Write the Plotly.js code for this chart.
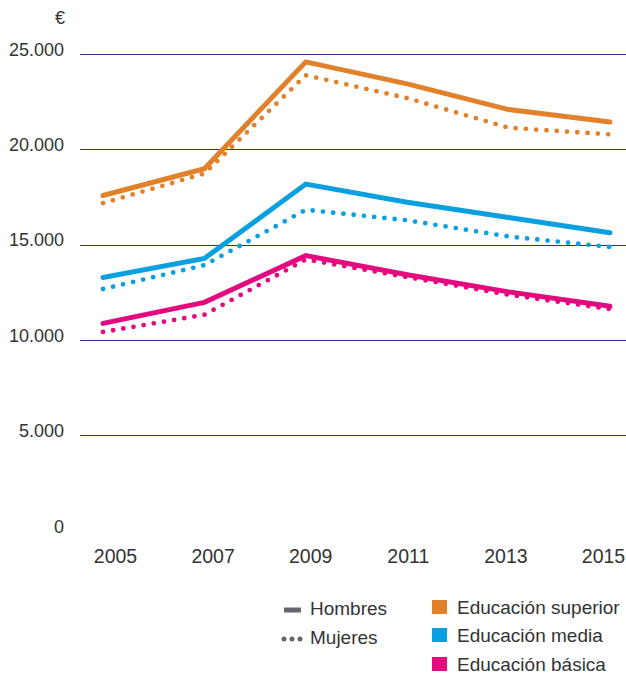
<!DOCTYPE html>
<html>
<head>
<meta charset="utf-8">
<script src="https://cdn.plot.ly/plotly-3.0.1.min.js"></script>
<style>
  html, body { margin: 0; padding: 0; background: #fff; }
  #chart { width: 626px; height: 675px; }
  .scatterlayer .js-line { stroke-linecap: round; }
</style>
</head>
<body>
<div id="chart"></div>
<script>
// ---- data ----
const years = [2005, 2007, 2009, 2011, 2013, 2015];
const yearLabels = ["2005", "2007", "2009", "2011", "2013", "2015"];

const superiorHombres = [17600, 19000, 24600, 23450, 22100, 21450];
const superiorMujeres = [17200, 18750, 23900, 22700, 21150, 20800];
const mediaHombres    = [13300, 14300, 18200, 17250, 16450, 15650];
const mediaMujeres    = [12700, 13950, 16850, 16300, 15450, 14900];
const basicaHombres   = [10900, 12000, 14450, 13450, 12550, 11800];
const basicaMujeres   = [10450, 11350, 14250, 13350, 12400, 11650];

const yTickVals  = [0, 5000, 10000, 15000, 20000, 25000];
const yTickText  = ["0", "5.000", "10.000", "15.000", "20.000", "25.000"];

const seriesNames = ["Educación superior", "Educación media", "Educación básica"];
const genderNames = ["Hombres", "Mujeres"];

// ---- styling ----
const C_SUP = "#e2812b", C_MED = "#0aa0e0", C_BAS = "#e5097f";
const GRAY = "#6b6570", GRID = "#30308f", TXT = "#333333";
const FONT = "Liberation Sans, Arial, sans-serif";

const W = 626, H = 675, ML = 80, MR = 0, MT = 30, MB = 143;
const PW = W - ML - MR, PH = H - MT - MB;
const px = x => (x - ML) / PW;
const py = y => (H - MB - y) / PH;

function solid(y, c, name) {
  return { x: years, y: y, type: "scatter", mode: "lines", name: name,
    line: { color: c, width: 5 }, hoverinfo: "skip", showlegend: false };
}
function dotted(y, c, name) {
  return { x: years, y: y, type: "scatter", mode: "lines", name: name,
    line: { color: c, width: 4.8, dash: "0px,10.3px" }, hoverinfo: "skip", showlegend: false };
}

const traces = [
  dotted(basicaMujeres, C_BAS, seriesNames[2] + " " + genderNames[1]),
  solid(basicaHombres, C_BAS, seriesNames[2] + " " + genderNames[0]),
  dotted(mediaMujeres, C_MED, seriesNames[1] + " " + genderNames[1]),
  solid(mediaHombres, C_MED, seriesNames[1] + " " + genderNames[0]),
  dotted(superiorMujeres, C_SUP, seriesNames[0] + " " + genderNames[1]),
  solid(superiorHombres, C_SUP, seriesNames[0] + " " + genderNames[0]),
  // carrier for the label axis
  { x: [years[0]], y: [null], xaxis: "x2", type: "scatter", mode: "lines",
    hoverinfo: "skip", showlegend: false }
];

// data axis: 2005 at x=103, 2015 at x=610
const dSlope = (610 - 103) / 10;
const xRange = [2005 - (103 - ML) / dSlope, 2005 + (W - MR - 103) / dSlope];
// label axis: 2005 label at 115.5, 2015 at 603.5
const lSlope = (603.5 - 115.5) / 10;
const x2Range = [2005 - (115.5 - ML) / lSlope, 2005 + (W - MR - 115.5) / lSlope];

const shapes = [], annotations = [];
// legend: gender
shapes.push({ type: "line", xref: "paper", yref: "paper",
  x0: px(284), x1: px(301), y0: py(610), y1: py(610),
  line: { color: GRAY, width: 5 } });
[284, 292, 300].forEach(cx => shapes.push({ type: "circle", xref: "paper", yref: "paper",
  x0: px(cx - 2.5), x1: px(cx + 2.5), y0: py(639 + 2.5), y1: py(639 - 2.5),
  fillcolor: GRAY, line: { width: 0 } }));
annotations.push({ xref: "paper", yref: "paper", x: px(308), y: py(608), xanchor: "left", yanchor: "middle",
  text: genderNames[0], showarrow: false, font: { family: FONT, size: 19, color: TXT } });
annotations.push({ xref: "paper", yref: "paper", x: px(308), y: py(637), xanchor: "left", yanchor: "middle",
  text: genderNames[1], showarrow: false, font: { family: FONT, size: 19, color: TXT } });
// legend: education
[[C_SUP, 607], [C_MED, 635], [C_BAS, 664]].forEach((d, i) => {
  shapes.push({ type: "rect", xref: "paper", yref: "paper",
    x0: px(432), x1: px(447), y0: py(d[1] + 7), y1: py(d[1] - 7),
    fillcolor: d[0], line: { width: 0 } });
  annotations.push({ xref: "paper", yref: "paper", x: px(455), y: py(d[1] + 0.5), xanchor: "left", yanchor: "middle",
    text: seriesNames[i], showarrow: false, font: { family: FONT, size: 19, color: TXT } });
});
// euro sign
annotations.push({ xref: "paper", yref: "paper", x: px(60), y: py(18), xanchor: "center", yanchor: "middle",
  text: "€", showarrow: false, font: { family: FONT, size: 18, color: TXT } });

const layout = {
  width: W, height: H,
  margin: { l: ML, r: MR, t: MT, b: MB, pad: 0 },
  paper_bgcolor: "#fff", plot_bgcolor: "#fff",
  showlegend: false,
  font: { family: FONT, color: TXT },
  xaxis: { range: xRange, showgrid: false, zeroline: false, showline: false,
    showticklabels: false, ticks: "" , fixedrange: true },
  xaxis2: { range: x2Range, overlaying: "x", anchor: "y", side: "bottom",
    showgrid: false, zeroline: false, showline: false, ticks: "",
    tickmode: "array", tickvals: years, ticktext: yearLabels,
    tickfont: { family: FONT, size: 19.5, color: TXT }, ticklabelstandoff: 10 },
  yaxis: { range: [-30, 26270], tickmode: "array", tickvals: yTickVals, ticktext: yTickText,
    showgrid: true, gridcolor: GRID, gridwidth: 1, zeroline: false, showline: false, ticks: "",
    tickfont: { family: FONT, size: 18, color: TXT }, ticklabelstandoff: 15, ticklabelshift: -5 },
  shapes: shapes,
  annotations: annotations
};

Plotly.newPlot("chart", traces, layout, { displayModeBar: false, staticPlot: true });
</script>
</body>
</html>
